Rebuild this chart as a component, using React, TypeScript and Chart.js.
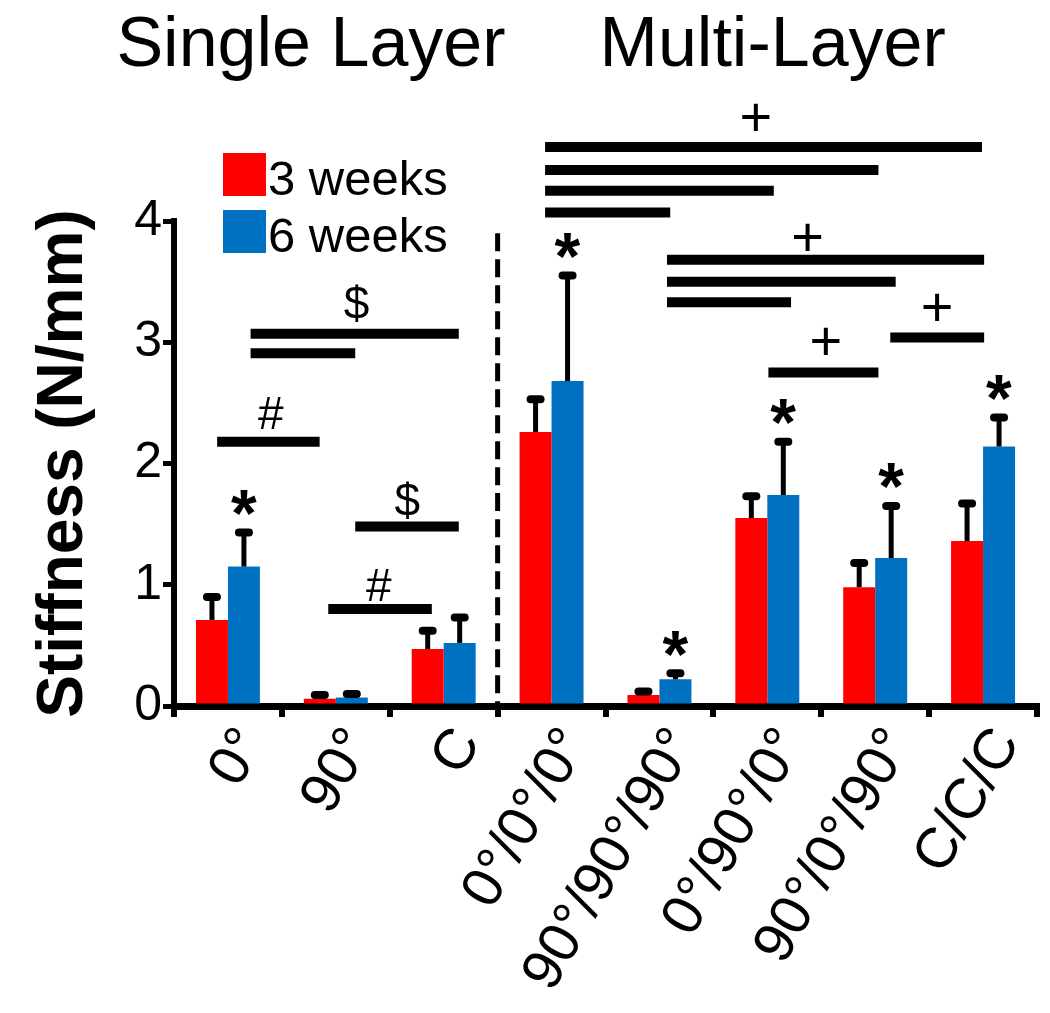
import React, { useEffect, useRef } from "react";
import { Chart, registerables } from "chart.js";

Chart.register(...registerables);

// ---- data ----
const categories = ["0°", "90°", "C", "0°/0°/0°", "90°/90°/90°", "0°/90°/0°", "90°/0°/90°", "C/C/C"];
const seriesNames = ["3 weeks", "6 weeks"];
const weeks3 = [0.71, 0.06, 0.47, 2.26, 0.09, 1.55, 0.98, 1.36];
const weeks3Err = [0.19, 0.03, 0.15, 0.27, 0.03, 0.18, 0.2, 0.31];
const weeks6 = [1.15, 0.07, 0.52, 2.68, 0.22, 1.74, 1.22, 2.14];
const weeks6Err = [0.28, 0.03, 0.21, 0.87, 0.05, 0.44, 0.43, 0.24];
// 6 weeks vs 3 weeks significance (asterisk)
const starred = [true, false, false, true, true, true, true, true];
const yTicks = [0, 1, 2, 3, 4];
const groupTitles = ["Single Layer", "Multi-Layer"];
const groupTitleCenters = [0.77, 5.05]; // in category units
const groupDivider = 2.5; // between Single Layer and Multi-Layer groups
// significance brackets: [start category, end category, level (N/mm)]
const sigBrackets: [number, number, number][] = [
  [0.21, 2.14, 3.07],
  [0.21, 1.18, 2.91],
  [-0.1, 0.85, 2.18],
  [1.18, 2.14, 1.48],
  [0.93, 1.89, 0.8],
  [2.94, 6.99, 4.61],
  [2.94, 6.03, 4.42],
  [2.94, 5.06, 4.25],
  [2.94, 4.1, 4.07],
  [4.07, 7.01, 3.68],
  [4.07, 6.19, 3.5],
  [4.07, 5.22, 3.33],
  [6.14, 7.01, 3.04],
  [5.01, 6.03, 2.75],
];
// significance symbols: [symbol, category, level (N/mm)]
const sigSymbols: [string, number, number][] = [
  ["$", 1.19, 3.32],
  ["#", 0.4, 2.42],
  ["$", 1.66, 1.7],
  ["#", 1.4, 1.0],
  ["+", 4.89, 4.86],
  ["+", 5.37, 3.87],
  ["+", 6.57, 3.29],
  ["+", 5.54, 3.01],
];

const colors = ["#FF0000", "#0070C0"];
const errorSets = [weeks3Err, weeks6Err];
const FONT = '"Liberation Sans", Arial, Helvetica, sans-serif';

function drawCentered(ctx: CanvasRenderingContext2D, text: string, cx: number, cy: number) {
  ctx.textAlign = "left";
  ctx.textBaseline = "alphabetic";
  const m = ctx.measureText(text);
  const l = m.actualBoundingBoxLeft;
  const r = m.actualBoundingBoxRight;
  const a = m.actualBoundingBoxAscent;
  const d = m.actualBoundingBoxDescent;
  const x = cx - (r - l) / 2;
  const y = cy - (d - a) / 2;
  ctx.fillText(text, x, y);
}

const overlayPlugin = {
  id: "overlay",
  afterDatasetsDraw(chart: any) {
    const { ctx } = chart;
    const y = chart.scales.y;
    ctx.save();
    ctx.strokeStyle = "#000";
    chart.data.datasets.forEach((ds: any, di: number) => {
      const meta = chart.getDatasetMeta(di);
      const errs = errorSets[di];
      meta.data.forEach((el: any, i: number) => {
        const v = ds.data[i];
        const yTop = y.getPixelForValue(v);
        const yCap = y.getPixelForValue(v + errs[i]);
        ctx.lineWidth = 5;
        ctx.lineCap = "butt";
        ctx.beginPath();
        ctx.moveTo(el.x, yTop);
        ctx.lineTo(el.x, yCap);
        ctx.stroke();
        ctx.lineWidth = 8;
        ctx.lineCap = "round";
        ctx.beginPath();
        ctx.moveTo(el.x - 5, yCap);
        ctx.lineTo(el.x + 5, yCap);
        ctx.stroke();
      });
    });
    ctx.restore();
  },
  afterDraw(chart: any) {
    const { ctx } = chart;
    const x = chart.scales.x;
    const y = chart.scales.y;
    ctx.save();
    ctx.fillStyle = "#000";
    ctx.strokeStyle = "#000";

    // divider dashed line
    const dx = x.getPixelForValue(groupDivider);
    ctx.lineWidth = 5;
    ctx.setLineDash([18, 8]);
    ctx.beginPath();
    ctx.moveTo(dx, y.getPixelForValue(3.9));
    ctx.lineTo(dx, y.getPixelForValue(0));
    ctx.stroke();
    ctx.setLineDash([]);

    // asterisks over 6-week bars
    const meta6 = chart.getDatasetMeta(1);
    ctx.font = `bold 66px ${FONT}`;
    starred.forEach((s, i) => {
      if (!s) return;
      const el = meta6.data[i];
      const yCap = y.getPixelForValue(weeks6[i] + weeks6Err[i]);
      drawCentered(ctx, "*", el.x, yCap - 30);
    });

    // significance brackets
    ctx.lineWidth = 10;
    ctx.lineCap = "butt";
    sigBrackets.forEach(([a, b, lv]) => {
      const py = y.getPixelForValue(lv);
      ctx.beginPath();
      ctx.moveTo(x.getPixelForValue(a), py);
      ctx.lineTo(x.getPixelForValue(b), py);
      ctx.stroke();
    });
    sigSymbols.forEach(([sym, c, lv]) => {
      ctx.font = sym === "+" ? `56px ${FONT}` : `46px ${FONT}`;
      drawCentered(ctx, sym, x.getPixelForValue(c), y.getPixelForValue(lv));
    });

    // group titles
    ctx.font = `70px ${FONT}`;
    ctx.textAlign = "center";
    ctx.textBaseline = "alphabetic";
    groupTitles.forEach((t, i) => {
      ctx.fillText(t, x.getPixelForValue(groupTitleCenters[i]), 66);
    });

    // legend
    ctx.font = `49px ${FONT}`;
    ctx.textAlign = "left";
    chart.data.datasets.forEach((ds: any, i: number) => {
      const top = 153 + i * 57;
      ctx.fillStyle = ds.backgroundColor;
      ctx.fillRect(223, top, 43, 43);
      ctx.fillStyle = "#000";
      ctx.fillText(ds.label, 268, top + 42);
    });
    ctx.restore();
  },
};

export default function App() {
  const ref = useRef<HTMLCanvasElement | null>(null);
  useEffect(() => {
    if (!ref.current) return;
    const chart = new Chart(ref.current, {
      type: "bar",
      data: {
        labels: categories,
        datasets: [
          { label: seriesNames[0], data: weeks3, backgroundColor: colors[0], borderWidth: 0 },
          { label: seriesNames[1], data: weeks6, backgroundColor: colors[1], borderWidth: 0 },
        ],
      },
      options: {
        animation: false,
        responsive: false,
        devicePixelRatio: 1,
        layout: { padding: { top: 221, right: 13, bottom: 0, left: 0 } },
        datasets: { bar: { categoryPercentage: 0.593, barPercentage: 1 } },
        plugins: { legend: { display: false }, tooltip: { enabled: false }, title: { display: false } },
        scales: {
          x: {
            grid: {
              display: true,
              drawOnChartArea: false,
              drawTicks: true,
              tickLength: 11,
              tickWidth: 6,
              tickColor: "#000",
              lineWidth: 6,
              color: "#000",
              offset: true,
            },
            border: { display: true, color: "#000", width: 7 },
            ticks: {
              color: "#000",
              font: { family: FONT, size: 57 },
              maxRotation: 60,
              minRotation: 60,
              autoSkip: false,
              padding: 0,
              labelOffset: 24,
            },
            afterFit: (s: any) => {
              s.height = 1013 - 706;
            },
          },
          y: {
            min: 0,
            max: 4,
            afterBuildTicks: (s: any) => {
              s.ticks = yTicks.map((v) => ({ value: v }));
            },
            grid: {
              display: true,
              drawOnChartArea: false,
              drawTicks: true,
              tickLength: 11,
              tickWidth: 5,
              tickColor: "#000",
              lineWidth: 5,
              color: "#000",
            },
            border: { display: true, color: "#000", width: 6 },
            ticks: { color: "#000", font: { family: FONT, size: 50 }, padding: 1 },
            title: {
              display: true,
              text: "Stiffness (N/mm)",
              color: "#000",
              font: { family: FONT, size: 64, weight: "bold" },
              padding: { top: 26, bottom: 0 },
            },
            afterFit: (s: any) => {
              s.width = 174;
            },
          },
        },
      },
      plugins: [overlayPlugin],
    });
    return () => chart.destroy();
  }, []);
  return (
    <div style={{ position: "absolute", left: 0, top: 0, width: 1050, height: 1013, background: "#fff" }}>
      <canvas ref={ref} width={1050} height={1013} />
    </div>
  );
}
